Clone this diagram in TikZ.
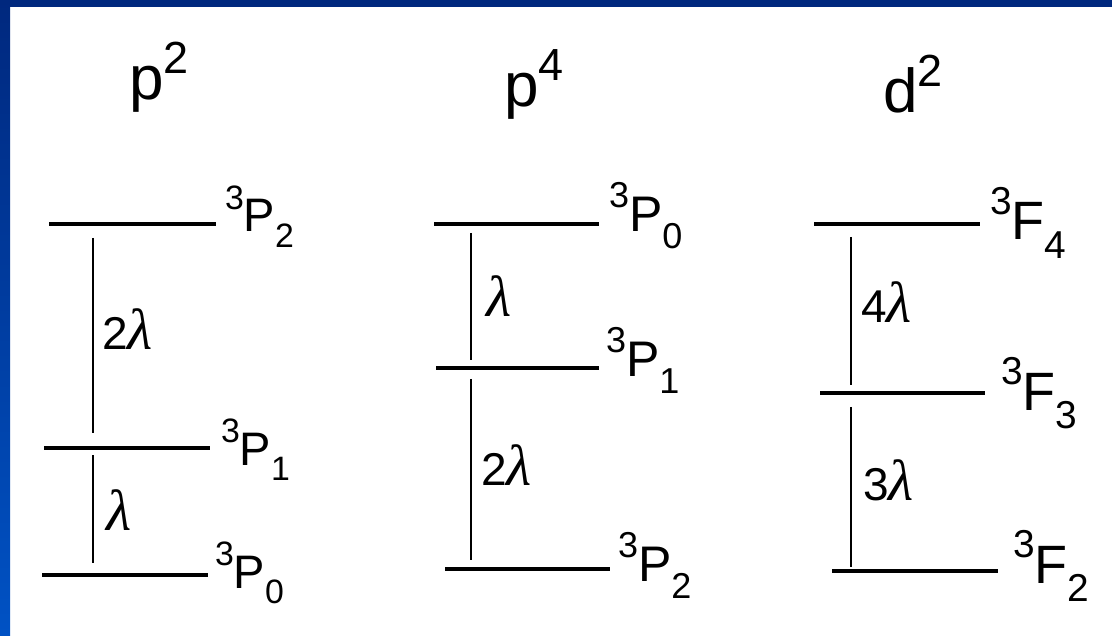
\documentclass[tikz,border=0pt]{standalone}
\usepackage{fontspec}
\setmainfont{Liberation Sans}
\newfontfamily\lamfont{Liberation Serif}
\definecolor{navy}{HTML}{00287E}
\definecolor{brightblue}{HTML}{0052C4}
\newcommand{\myterm}[3]{%
 {\fontsize{\fpeval{0.72*#1}}{\fpeval{0.72*#1}}\selectfont\raisebox{\fpeval{0.48*#1}pt}{3}}%
 {\fontsize{#1}{#1}\selectfont #2}%
 {\fontsize{\fpeval{0.72*#1}}{\fpeval{0.72*#1}}\selectfont\raisebox{-\fpeval{0.34*#1}pt}{#3}}}
\newcommand{\mytitle}[2]{%
 {\fontsize{62}{62}\selectfont #1}%
 {\fontsize{45}{45}\selectfont\raisebox{26pt}{#2}}}
\newcommand{\lam}{{\fontsize{58}{58}\lamfont\itshape λ}}
\begin{document}
\begin{tikzpicture}[x=1pt,y=-1pt,
  level/.style={line width=4.5pt},
  gap/.style={line width=1.3pt},
  lbl/.style={anchor=base west,inner sep=0pt,outer sep=0pt},
  lamlbl/.style={anchor=base west,inner sep=0pt,font=\fontsize{46}{46}\selectfont}]
% background frame
\fill[white] (0,0) rectangle (1112,636);
\fill[navy] (0,0) rectangle (1112,7);
\shade[top color=navy,bottom color=brightblue] (0,0) rectangle (10,636);
\useasboundingbox (0,0) rectangle (1112,636);

% titles
\node[lbl] (tp2) at (129,100) {\mytitle{p}{2}};
\node[lbl] (tp4) at (504,107) {\mytitle{p}{4}};
\node[lbl] (td2) at (883,113) {\mytitle{d}{2}};

% ---- p^2
\coordinate (a2l) at (49,224);  \coordinate (a2r) at (216,224);
\coordinate (a1l) at (44,448);  \coordinate (a1r) at (210,448);
\coordinate (a0l) at (42,575);  \coordinate (a0r) at (208,575);
\draw[level] (a2l) -- (a2r);
\draw[level] (a1l) -- (a1r);
\draw[level] (a0l) -- (a0r);
\coordinate (av1) at (93,238); \coordinate (av2) at (93,433);
\coordinate (av3) at (93,455); \coordinate (av4) at (93,563);
\draw[gap] (av1) -- (av2);
\draw[gap] (av3) -- (av4);
\node[lbl] (la2) at (225,232) {\myterm{47}{P}{2}};
\node[lbl] (la1) at (221,465) {\myterm{47}{P}{1}};
\node[lbl] (la0) at (215,588) {\myterm{47}{P}{0}};
\node[lamlbl] (ga1) at (102,350) {2\lam};
\node[lamlbl] (ga2) at (106,530) {\lam};

% ---- p^4
\coordinate (b0l) at (434,224); \coordinate (b0r) at (599,224);
\coordinate (b1l) at (436,368); \coordinate (b1r) at (599,368);
\coordinate (b2l) at (445,569); \coordinate (b2r) at (610,569);
\draw[level] (b0l) -- (b0r);
\draw[level] (b1l) -- (b1r);
\draw[level] (b2l) -- (b2r);
\coordinate (bv1) at (471,233); \coordinate (bv2) at (471,360);
\coordinate (bv3) at (471,379); \coordinate (bv4) at (471,560);
\draw[gap] (bv1) -- (bv2);
\draw[gap] (bv3) -- (bv4);
\node[lbl] (lb0) at (609,232) {\myterm{50}{P}{0}};
\node[lbl] (lb1) at (606,377) {\myterm{50}{P}{1}};
\node[lbl] (lb2) at (618,581) {\myterm{50}{P}{2}};
\node[lamlbl] (gb1) at (486,317) {\lam};
\node[lamlbl] (gb2) at (481,485) {2\lam};

% ---- d^2
\coordinate (c4l) at (814,224); \coordinate (c4r) at (980,224);
\coordinate (c3l) at (820,393); \coordinate (c3r) at (985,393);
\coordinate (c2l) at (832,571); \coordinate (c2r) at (998,571);
\draw[level] (c4l) -- (c4r);
\draw[level] (c3l) -- (c3r);
\draw[level] (c2l) -- (c2r);
\coordinate (cv1) at (851,237); \coordinate (cv2) at (851,385);
\coordinate (cv3) at (851,407); \coordinate (cv4) at (851,567);
\draw[gap] (cv1) -- (cv2);
\draw[gap] (cv3) -- (cv4);
\node[lbl] (lc4) at (990,240) {\myterm{54}{F}{4}};
\node[lbl] (lc3) at (1001,410) {\myterm{54}{F}{3}};
\node[lbl] (lc2) at (1013,583) {\myterm{54}{F}{2}};
\node[lamlbl] (gc1) at (861,323) {4\lam};
\node[lamlbl] (gc2) at (863,500) {3\lam};
\end{tikzpicture}
\end{document}
